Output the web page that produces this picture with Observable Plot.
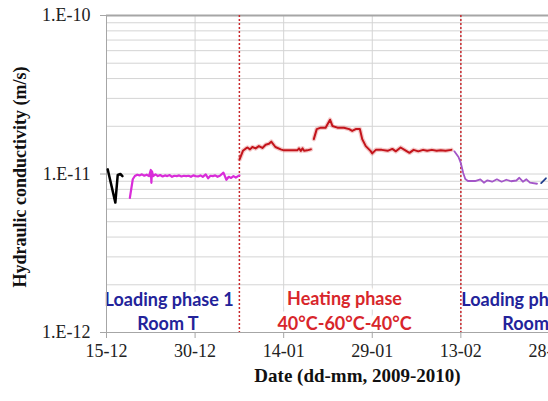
<!DOCTYPE html>
<html>
<head>
<meta charset="utf-8">
<script src="https://cdn.jsdelivr.net/npm/d3@7"></script>
<script src="https://cdn.jsdelivr.net/npm/@observablehq/plot@0.6"></script>
<style>
  html, body { margin: 0; padding: 0; background: white; overflow: hidden; }
  #chart svg { max-width: none !important; display: block; }
</style>
</head>
<body>
<div id="chart"></div>
<script>
// Time is stored as days elapsed since 15-12-2009; conductivity in m/s.
const blackDay = [0.2, 1.5, 1.9, 2.35, 2.7];
const blackK   = [1.07e-11, 6.6e-12, 9.86e-12, 1.0e-11, 9.7e-12];

const magentaDay = [3.95, 4.45, 4.8, 5.2, 5.6, 6.0, 6.4, 6.8, 7.2, 7.5, 7.6, 7.7, 7.9, 8.3, 8.7, 9.1, 9.5, 9.9,
  10.3, 10.7, 11.1, 11.5, 11.9, 12.3, 12.7, 13.1, 13.5, 13.9, 14.3, 14.7, 15.1, 15.5, 15.9, 16.3, 16.8,
  17.2, 17.6, 18.0, 18.4, 18.8, 19.2, 19.8, 20.3, 20.7, 21.1, 21.5, 21.9, 22.5];
const magentaK = [7.06e-12, 9.26e-12, 9.72e-12, 9.9e-12, 9.8e-12, 9.95e-12, 9.75e-12, 9.9e-12, 9.7e-12, 1.06e-11, 8.8e-12, 1.04e-11, 9.7e-12, 9.95e-12, 9.7e-12, 9.85e-12, 9.65e-12, 9.8e-12,
  9.7e-12, 9.85e-12, 9.6e-12, 9.75e-12, 9.7e-12, 9.8e-12, 9.65e-12, 9.75e-12, 9.7e-12, 9.75e-12, 9.6e-12, 9.8e-12, 9.7e-12, 9.65e-12, 9.8e-12, 9.6e-12, 9.95e-12,
  9.4e-12, 9.75e-12, 9.7e-12, 9.8e-12, 9.6e-12, 9.75e-12, 1.02e-11, 9.2e-12, 9.6e-12, 9.45e-12, 9.7e-12, 9.5e-12, 9.8e-12];

const heating1Day = [22.55, 23.1, 23.5, 23.85, 24.3, 24.7, 25.25, 25.8, 26.4, 26.95, 27.5, 27.9, 28.6, 29.5, 30.05,
  31.2, 32.3, 32.6, 32.9, 33.2, 33.45, 34.0, 34.6];
const heating1K = [1.24e-11, 1.40e-11, 1.44e-11, 1.47e-11, 1.43e-11, 1.48e-11, 1.45e-11, 1.50e-11, 1.46e-11, 1.53e-11, 1.55e-11, 1.60e-11, 1.48e-11, 1.43e-11, 1.41e-11,
  1.41e-11, 1.41e-11, 1.45e-11, 1.40e-11, 1.45e-11, 1.40e-11, 1.41e-11, 1.43e-11];

const heating2Day = [35.1, 35.6, 36.3, 37.1, 37.85, 38.25, 39.1, 40.2, 41.1, 41.6, 42.2, 42.9, 43.3, 43.9, 44.7, 45.0, 45.6,
  46.6, 47.6, 48.4, 49.0, 49.8, 50.6, 51.3, 52.0, 52.8, 53.6, 54.3, 55.1, 55.9, 56.6, 57.4, 58.4];
const heating2K = [1.66e-11, 1.92e-11, 1.96e-11, 1.96e-11, 2.20e-11, 2.01e-11, 1.96e-11, 1.96e-11, 1.92e-11, 1.87e-11, 1.92e-11, 1.92e-11, 1.66e-11, 1.50e-11, 1.40e-11, 1.35e-11, 1.42e-11,
  1.42e-11, 1.40e-11, 1.44e-11, 1.39e-11, 1.47e-11, 1.41e-11, 1.36e-11, 1.42e-11, 1.39e-11, 1.42e-11, 1.40e-11, 1.42e-11, 1.40e-11, 1.41e-11, 1.40e-11, 1.42e-11];

const loading2Day = [58.9, 59.6, 60.0, 60.4, 60.75, 61.2, 62.4, 63.3, 63.9, 64.5, 65.3, 66.1, 66.9, 67.7, 68.5, 69.4, 69.9, 70.5, 71.1, 71.7, 72.9];
const loading2K = [1.39e-11, 1.28e-11, 1.17e-11, 1.015e-11, 9.3e-12, 9.03e-12, 9.03e-12, 9.26e-12, 8.81e-12, 9.12e-12, 8.94e-12, 9.26e-12, 8.94e-12, 9.2e-12, 9.0e-12, 9.1e-12, 9.47e-12, 8.94e-12, 9.26e-12, 8.81e-12, 8.68e-12];

const loading2bDay = [73.6, 74.4];
const loading2bK   = [8.77e-12, 9.4e-12];

const phaseBoundaryDay = [22.5, 60];

const xTickDay    = [0, 15, 30, 45, 60, 75];
const xTickLabels = ["15-12", "30-12", "14-01", "29-01", "13-02", "28-02"];
const yTickValues = [1e-12, 1e-11, 1e-10];
const yTickLabels = ["1.E-12", "1.E-11", "1.E-10"];

const phaseLabels = ["Loading phase 1", "Room T", "Heating phase", "40°C-60°C-40°C", "Loading phase 2", "Room T"];
const phaseLabelDay = [10.6, 10.4, 40.3, 40.3, 71.0, 72.2];
const phaseLabelK   = [1.6e-12, 1.125e-12, 1.62e-12, 1.13e-12, 1.6e-12, 1.125e-12];
const phaseLabelColor = ["#23239a", "#23239a", "#d8262b", "#d8262b", "#23239a", "#23239a"];

const t0 = Date.UTC(2009, 11, 15);
const toDate = d => new Date(t0 + d * 864e5);
const series = (days, ks) => days.map((d, i) => ({date: toDate(d), k: ks[i]}));

const black = series(blackDay, blackK);
const magenta = series(magentaDay, magentaK);
const heating1 = series(heating1Day, heating1K);
const heating2 = series(heating2Day, heating2K);
const loading2 = series(loading2Day, loading2K);
const loading2b = series(loading2bDay, loading2bK);
const labels = phaseLabels.map((t, i) => ({text: t, date: toDate(phaseLabelDay[i]), k: phaseLabelK[i], color: phaseLabelColor[i]}));

const xTicks = xTickDay.map(toDate);
const yGrid = d3.scaleLog().domain([1e-12, 1e-10]).ticks();
const serif = "'Liberation Serif', 'Times New Roman', serif";
const sans = "Lato, 'Open Sans', sans-serif";

const chart = Plot.plot({
  width: 620,
  height: 401,
  marginLeft: 106,
  marginRight: 12,
  marginTop: 15,
  marginBottom: 69,
  style: {background: "white", fontFamily: serif, overflow: "visible"},
  x: {type: "utc", domain: [toDate(0), toDate(85)]},
  y: {type: "log", domain: [1e-12, 1e-10]},
  marks: [
    Plot.gridY(yGrid, {stroke: "#d4d4d4", strokeOpacity: 1}),
    Plot.gridX(xTicks, {stroke: "#d4d4d4", strokeOpacity: 1}),
    Plot.text(labels, {x: "date", y: "k", text: "text", fill: "color", stroke: "white", strokeWidth: 9,
      fontFamily: sans, fontWeight: "bold", fontSize: 18}),
    Plot.ruleY([1e-10], {stroke: "#a6a6a6", strokeWidth: 2}),
    Plot.ruleY([1e-12], {stroke: "#a6a6a6", strokeWidth: 1}),
    Plot.ruleX([toDate(0)], {stroke: "#a6a6a6", strokeWidth: 1}),
    Plot.axisY(yTickValues, {tickSize: 6, tickPadding: 10, stroke: "#a6a6a6", fill: "#222", fontSize: 18,
      letterSpacing: 1, tickFormat: d => yTickLabels[yTickValues.indexOf(d)], label: null}),
    Plot.axisX(xTicks, {tickSize: 6, tickPadding: 6, stroke: "#a6a6a6", fill: "#222", fontSize: 18,
      tickFormat: d => xTickLabels[xTicks.findIndex(t => +t === +d)], label: null}),
    Plot.ruleX(phaseBoundaryDay.map(toDate), {stroke: "#c8282d", strokeWidth: 1.5, strokeDasharray: "2,2"}),
    Plot.lineY(black, {x: "date", y: "k", stroke: "#000", strokeWidth: 2.5}),
    Plot.lineY(magenta, {x: "date", y: "k", stroke: "#d92cd9", strokeWidth: 2.2}),
    Plot.lineY(heating1, {x: "date", y: "k", stroke: "#e06a6a", strokeWidth: 4.5, strokeOpacity: 0.35}),
    Plot.lineY(heating2, {x: "date", y: "k", stroke: "#e06a6a", strokeWidth: 4.5, strokeOpacity: 0.35}),
    Plot.lineY(heating1, {x: "date", y: "k", stroke: "#c3141b", strokeWidth: 2}),
    Plot.lineY(heating2, {x: "date", y: "k", stroke: "#c3141b", strokeWidth: 2}),
    Plot.lineY(loading2, {x: "date", y: "k", stroke: "#a356c8", strokeWidth: 1.8}),
    Plot.lineY(loading2b, {x: "date", y: "k", stroke: "#23408e", strokeWidth: 1.8}),
    Plot.text(["Hydraulic conductivity (m/s)"], {frameAnchor: "left", textAnchor: "middle", rotate: -90, dx: -86, dy: 3,
      fontFamily: serif, fontWeight: "bold", fontSize: 18, letterSpacing: 0.3, fill: "#111"}),
    Plot.text(["Date (dd-mm, 2009-2010)"], {frameAnchor: "bottom", dy: 49,
      fontFamily: serif, fontWeight: "bold", fontSize: 19, letterSpacing: 1, fill: "#111"})
  ]
});
document.getElementById("chart").appendChild(chart);
</script>
</body>
</html>
